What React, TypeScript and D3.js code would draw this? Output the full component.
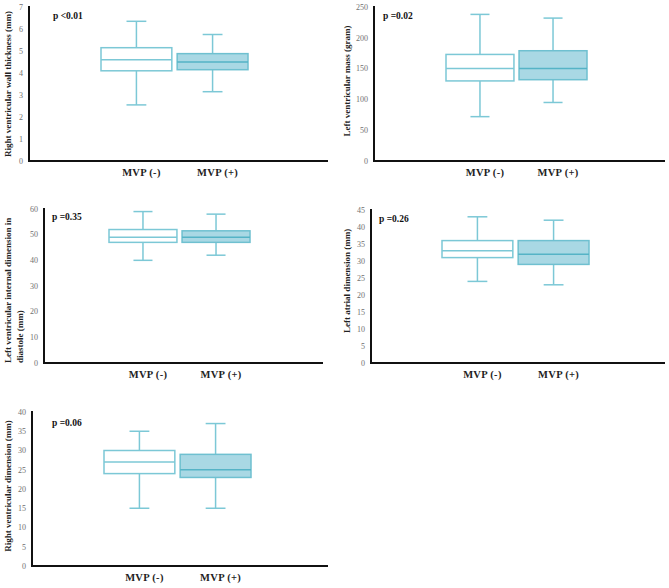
import React from "react";
import * as d3 from "d3";

const categories = ["MVP (-)", "MVP (+)"];

// stats per panel: [min, q1, median, q3, max] for MVP(-) and MVP(+)
const rvWallStats = [[2.55, 4.1, 4.6, 5.15, 6.35], [3.15, 4.15, 4.5, 4.88, 5.75]];
const lvMassStats = [[72, 130, 150, 173, 238], [95, 132, 150, 179, 232]];
const lvidStats = [[40, 47, 49, 52, 59], [42, 47, 49, 51.5, 58]];
const laStats = [[24, 31, 33, 36, 43], [23, 29, 32, 36, 42]];
const rvDimStats = [[15, 24, 27, 30, 35], [15, 23, 25, 29, 37]];

const yMaxes = [7, 250, 60, 45, 40];
const yStepValues = [1, 50, 10, 5, 5];
const pLabels = ["p <0.01", "p =0.02", "p =0.35", "p =0.26", "p =0.06"];
const yTitles = [
  ["Right ventricular wall thickness (mm)"],
  ["Left ventricular mass (gram)"],
  ["Left ventricular internal dimension in", "diastole (mm)"],
  ["Left atrial dimension (mm)"],
  ["Right ventricular dimension (mm)"],
];
const allStats = [rvWallStats, lvMassStats, lvidStats, laStats, rvDimStats];

// layout frames (pixels)
const frames = [
  { ax: 29, top: 7, bottom: 161, right: 328, bl: 101, br: 248, tx: 11, ty: 84, px: 53, py: 19 },
  { ax: 374, top: 7, bottom: 161, right: 665, bl: 446, br: 587, tx: 350, ty: 81, px: 383, py: 19 },
  { ax: 44, top: 209, bottom: 363, right: 323, bl: 109, br: 250, tx: 11, ty: 363, px: 52, py: 220 },
  { ax: 371, top: 210, bottom: 363, right: 665, bl: 442, br: 589, tx: 350, ty: 281, px: 379, py: 222 },
  { ax: 32, top: 412, bottom: 566, right: 328, bl: 104, br: 251, tx: 11, ty: 486, px: 52, py: 426 },
];

const STROKE = "#7cc8d6";
const FILL = "#a9d8e4";
const MEDIAN_FILLED = "#55b3c6";
const SERIF = "'Liberation Serif', 'Times New Roman', serif";

function Panel({ idx }: { idx: number }) {
  const f = frames[idx];
  const stats = allStats[idx];
  const y = d3.scaleLinear().domain([0, yMaxes[idx]]).range([f.bottom, f.top]);
  const x = d3.scaleBand<string>().domain(categories).range([f.bl, f.br]).paddingInner(0.07);
  const bw = x.bandwidth();
  const ticks = d3.range(0, yMaxes[idx] + 1e-9, yStepValues[idx]);
  const titleLines = yTitles[idx];
  return (
    <g>
      {ticks.map((t) => (
        <text
          key={t}
          x={f.ax - 6}
          y={y(t)}
          dy="0.35em"
          textAnchor="end"
          fontFamily={SERIF}
          fontSize={8}
          fill="#707070"
        >
          {t}
        </text>
      ))}
      {categories.map((c, i) => {
        const [mn, q1, md, q3, mx] = stats[i];
        const x0 = x(c)!;
        const cx = x0 + bw / 2;
        const cap = bw * 0.28;
        const filled = i === 1;
        return (
          <g key={c}>
            <line x1={cx} x2={cx} y1={y(q3)} y2={y(mx)} stroke={STROKE} strokeWidth={1.5} />
            <line x1={cx} x2={cx} y1={y(q1)} y2={y(mn)} stroke={STROKE} strokeWidth={1.5} />
            <line x1={cx - cap / 2} x2={cx + cap / 2} y1={y(mx)} y2={y(mx)} stroke={STROKE} strokeWidth={1.5} />
            <line x1={cx - cap / 2} x2={cx + cap / 2} y1={y(mn)} y2={y(mn)} stroke={STROKE} strokeWidth={1.5} />
            <rect
              x={x0}
              y={y(q3)}
              width={bw}
              height={y(q1) - y(q3)}
              fill={filled ? FILL : "#fff"}
              stroke={filled ? "#6fc0d0" : STROKE}
              strokeWidth={1.5}
            />
            <line
              x1={x0}
              x2={x0 + bw}
              y1={y(md)}
              y2={y(md)}
              stroke={filled ? MEDIAN_FILLED : STROKE}
              strokeWidth={1.5}
            />
            <text
              x={cx + 5}
              y={f.bottom + 15}
              textAnchor="middle"
              fontFamily={SERIF}
              fontWeight="bold"
              fontSize={10.5}
              letterSpacing={0.3}
              fill="#222"
            >
              {c}
            </text>
          </g>
        );
      })}
      <line x1={f.ax} x2={f.ax} y1={f.top - 1} y2={f.bottom + 1} stroke="#111" strokeWidth={2} />
      <line x1={f.ax - 1} x2={f.right} y1={f.bottom} y2={f.bottom} stroke="#111" strokeWidth={2} />
      <text x={f.px} y={f.py} fontFamily={SERIF} fontWeight="bold" fontSize={9.5} fill="#111">
        {pLabels[idx]}
      </text>
      {titleLines.length === 1 ? (
        <text
          transform={`translate(${f.tx},${f.ty}) rotate(-90)`}
          textAnchor="middle"
          fontFamily={SERIF}
          fontWeight="bold"
          fontSize={9}
          fill="#222"
        >
          {titleLines[0]}
        </text>
      ) : (
        titleLines.map((line, li) => (
          <text
            key={li}
            transform={`translate(${f.tx + li * 12},${f.ty}) rotate(-90)`}
            textAnchor="start"
            fontFamily={SERIF}
            fontWeight="bold"
            fontSize={9}
            fill="#222"
          >
            {line}
          </text>
        ))
      )}
    </g>
  );
}

export default function App() {
  return (
    <svg
      width={669}
      height={588}
      style={{ position: "absolute", left: 0, top: 0, background: "#fff" }}
    >
      <rect width={669} height={588} fill="#fff" />
      {frames.map((_, i) => (
        <Panel key={i} idx={i} />
      ))}
    </svg>
  );
}
